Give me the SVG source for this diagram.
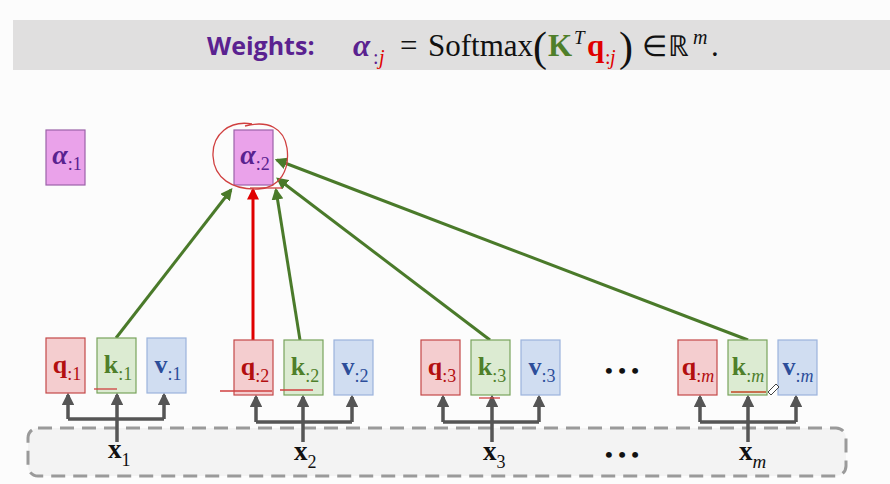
<svg xmlns="http://www.w3.org/2000/svg" width="890" height="484" viewBox="0 0 890 484">
<defs>
<style>
.bx{stroke-width:1.2}
.q{fill:#f4cdcf;stroke:#c44848}
.k{fill:#dcebd2;stroke:#78a35c}
.v{fill:#d0ddf1;stroke:#9bb3dc}
.a{fill:#eaa2ea;stroke:#9b62a8}
.m{font-family:"Liberation Serif",serif}
.qt{fill:#b30f0f}
.kt{fill:#4f7f2a}
.vt{fill:#2c4d9a}
.at{fill:#5a2290}
.xl{font-family:"Liberation Serif",serif;fill:#111}
.g{stroke:#4a7a2a;stroke-width:3;fill:none}
.r{stroke:#e00000;stroke-width:3;fill:none}
.d{stroke:#555;stroke-width:3.5;fill:none}
.ann{stroke:#d04040;stroke-width:1.3;fill:none}
</style>
<marker id="ag" viewBox="0 0 10 10" refX="8" refY="5" markerWidth="4" markerHeight="4" orient="auto"><path d="M0,0 L10,5 L0,10 z" fill="#4a7a2a"/></marker>
<marker id="ar" viewBox="0 0 10 10" refX="8" refY="5" markerWidth="4" markerHeight="4" orient="auto"><path d="M0,0 L10,5 L0,10 z" fill="#e00000"/></marker>
<marker id="ad" viewBox="0 0 10 10" refX="8" refY="5" markerWidth="3.6" markerHeight="3.6" orient="auto"><path d="M0,0 L10,5 L0,10 z" fill="#555"/></marker>
</defs>
<rect x="0" y="0" width="890" height="484" fill="#fcfcfc"/>
<g id="header">
<rect x="13" y="20" width="877" height="50" fill="#e0dfdf"/>
<text x="207" y="55" font-family="Open Sans,Liberation Sans,sans-serif" font-weight="bold" font-size="25" fill="#5a2290">Weights:</text>
<text class="m" x="353" y="56" font-size="31" font-weight="bold" font-style="italic" fill="#5a2290">α</text>
<text class="m" x="373" y="64" font-size="20" fill="#5a2290">:</text>
<text class="m" x="379" y="64" font-size="20" font-style="italic" fill="#e00000">j</text>
<text class="m" x="400" y="56" font-size="31" fill="#111">=</text>
<text class="m" x="428" y="56" font-size="31" fill="#111">Softmax</text>
<text class="m" x="533" y="61" font-size="42" fill="#111">(</text>
<text class="m" x="548" y="56" font-size="31" font-weight="bold" fill="#4f7f2a">K</text>
<text class="m" x="574" y="44" font-size="19" font-style="italic" fill="#111">T</text>
<text class="m" x="587" y="56" font-size="31" font-weight="bold" fill="#e00000">q</text>
<text class="m" x="605" y="64" font-size="20" fill="#e00000">:</text>
<text class="m" x="610" y="64" font-size="20" font-style="italic" fill="#e00000">j</text>
<text class="m" x="619" y="61" font-size="42" fill="#111">)</text>
<text class="m" x="642" y="56" font-size="29" fill="#111">∈</text>
<text class="m" x="668" y="56" font-size="29" fill="#111">ℝ</text>
<text class="m" x="693" y="44" font-size="20" font-style="italic" fill="#111">m</text>
<text class="m" x="711" y="56" font-size="31" fill="#111">.</text>
</g>
<g id="input-band">
<rect x="28" y="428" width="818" height="48" rx="10" fill="#f3f3f3" stroke="#9a9a9a" stroke-width="3" stroke-dasharray="14 8"/>
</g>
<g id="connectors">
<path class="d" d="M68,419 H164"/>
<path class="d" d="M68,419 V395" marker-end="url(#ad)"/>
<path class="d" d="M164,419 V395" marker-end="url(#ad)"/>
<path class="d" d="M117,442 V395" marker-end="url(#ad)"/>
<path class="d" d="M256,422 H352"/>
<path class="d" d="M256,422 V397" marker-end="url(#ad)"/>
<path class="d" d="M352,422 V397" marker-end="url(#ad)"/>
<path class="d" d="M303,442 V397" marker-end="url(#ad)"/>
<path class="d" d="M443,422 H539"/>
<path class="d" d="M443,422 V397" marker-end="url(#ad)"/>
<path class="d" d="M539,422 V397" marker-end="url(#ad)"/>
<path class="d" d="M492,442 V397" marker-end="url(#ad)"/>
<path class="d" d="M700,422 H796"/>
<path class="d" d="M700,422 V397" marker-end="url(#ad)"/>
<path class="d" d="M796,422 V397" marker-end="url(#ad)"/>
<path class="d" d="M748,442 V397" marker-end="url(#ad)"/>
<path class="g" d="M116,338 L231,190" marker-end="url(#ag)"/>
<path class="r" d="M253,340 V190" marker-end="url(#ar)"/>
<path class="g" d="M300,340 L276,190" marker-end="url(#ag)"/>
<path class="g" d="M490,340 L278,179" marker-end="url(#ag)"/>
<path class="g" d="M748,340 L277,160" marker-end="url(#ag)"/>
</g>
<g id="alpha1"><rect class="bx a" x="46" y="130" width="39" height="55"/><text class="m at" x="67" y="164" text-anchor="middle"><tspan font-size="28" font-weight="bold" font-style="italic">α</tspan><tspan font-size="18" dy="6">:1</tspan></text></g>
<g id="alpha2"><rect class="bx a" x="234" y="130" width="39" height="55"/><text class="m at" x="255" y="164" text-anchor="middle"><tspan font-size="28" font-weight="bold" font-style="italic">α</tspan><tspan font-size="18" dy="6">:2</tspan></text></g>
<g id="q1"><rect class="bx q" x="46" y="338" width="39" height="55"/><text class="m qt" x="67" y="373" text-anchor="middle"><tspan font-size="26" font-weight="bold">q</tspan><tspan font-size="18" dy="7">:1</tspan></text></g>
<g id="k1"><rect class="bx k" x="97" y="338" width="39" height="55"/><text class="m kt" x="118" y="373" text-anchor="middle"><tspan font-size="26" font-weight="bold">k</tspan><tspan font-size="18" dy="7">:1</tspan></text></g>
<g id="v1"><rect class="bx v" x="147" y="338" width="39" height="55"/><text class="m vt" x="168" y="373" text-anchor="middle"><tspan font-size="26" font-weight="bold">v</tspan><tspan font-size="18" dy="7">:1</tspan></text></g>
<g id="q2"><rect class="bx q" x="234" y="340" width="39" height="55"/><text class="m qt" x="255" y="375" text-anchor="middle"><tspan font-size="26" font-weight="bold">q</tspan><tspan font-size="18" dy="7">:2</tspan></text></g>
<g id="k2"><rect class="bx k" x="284" y="340" width="39" height="55"/><text class="m kt" x="305" y="375" text-anchor="middle"><tspan font-size="26" font-weight="bold">k</tspan><tspan font-size="18" dy="7">:2</tspan></text></g>
<g id="v2"><rect class="bx v" x="334" y="340" width="39" height="55"/><text class="m vt" x="355" y="375" text-anchor="middle"><tspan font-size="26" font-weight="bold">v</tspan><tspan font-size="18" dy="7">:2</tspan></text></g>
<g id="q3"><rect class="bx q" x="421" y="340" width="39" height="55"/><text class="m qt" x="442" y="375" text-anchor="middle"><tspan font-size="26" font-weight="bold">q</tspan><tspan font-size="18" dy="7">:3</tspan></text></g>
<g id="k3"><rect class="bx k" x="471" y="340" width="39" height="55"/><text class="m kt" x="492" y="375" text-anchor="middle"><tspan font-size="26" font-weight="bold">k</tspan><tspan font-size="18" dy="7">:3</tspan></text></g>
<g id="v3"><rect class="bx v" x="521" y="340" width="39" height="55"/><text class="m vt" x="542" y="375" text-anchor="middle"><tspan font-size="26" font-weight="bold">v</tspan><tspan font-size="18" dy="7">:3</tspan></text></g>
<g id="qm"><rect class="bx q" x="678" y="340" width="39" height="55"/><text class="m qt" x="698" y="375" text-anchor="middle"><tspan font-size="26" font-weight="bold">q</tspan><tspan font-size="18" dy="7">:</tspan><tspan font-size="18" font-style="italic">m</tspan></text></g>
<g id="km"><rect class="bx k" x="728" y="340" width="39" height="55"/><text class="m kt" x="748" y="375" text-anchor="middle"><tspan font-size="26" font-weight="bold">k</tspan><tspan font-size="18" dy="7">:</tspan><tspan font-size="18" font-style="italic">m</tspan></text></g>
<g id="vm"><rect class="bx v" x="778" y="340" width="39" height="55"/><text class="m vt" x="798" y="375" text-anchor="middle"><tspan font-size="26" font-weight="bold">v</tspan><tspan font-size="18" dy="7">:</tspan><tspan font-size="18" font-style="italic">m</tspan></text></g>
<g id="ellipsis-top"><text class="xl" x="622" y="378" text-anchor="middle" font-size="22" font-weight="bold">• • •</text></g>
<g id="x1"><text class="xl" x="108" y="458" font-size="27" font-weight="bold">x<tspan font-size="18" font-weight="normal" y="466">1</tspan></text></g>
<g id="x2"><text class="xl" x="294" y="460" font-size="27" font-weight="bold">x<tspan font-size="18" font-weight="normal" y="468">2</tspan></text></g>
<g id="x3"><text class="xl" x="483" y="460" font-size="27" font-weight="bold">x<tspan font-size="18" font-weight="normal" y="468">3</tspan></text></g>
<g id="ellipsis-bottom"><text class="xl" x="622" y="462" text-anchor="middle" font-size="22" font-weight="bold">• • •</text></g>
<g id="xm"><text class="xl" x="739" y="460" font-size="27" font-weight="bold">x<tspan font-size="19" font-weight="normal" font-style="italic" y="468">m</tspan></text></g>
<g id="annotations">
<path class="ann" d="M252,124 C230,120 212,134 213,156 C214,178 232,190 258,189 C280,188 290,170 287,148 C284,128 268,120 245,126"/>
<path class="ann" d="M250,188 H282"/>
<path class="ann" d="M94,389 H117"/>
<path class="ann" d="M220,391 H272"/>
<path class="ann" d="M280,390 H313"/>
<path class="ann" d="M479,398 H500"/>
<path d="M731,392 H766" stroke="#c87050" stroke-width="2"/>
<path d="M768,392 L776,384 L779,387 L771,395 Z" fill="#fff" stroke="#444" stroke-width="1"/>
</g>
</svg>
